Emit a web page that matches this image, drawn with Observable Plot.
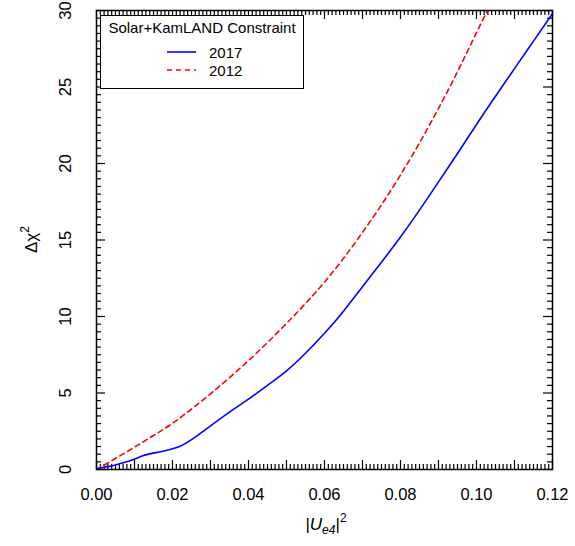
<!DOCTYPE html>
<html>
<head>
<meta charset="utf-8">
<script src="https://cdn.jsdelivr.net/npm/d3@7"></script>
<script src="https://cdn.jsdelivr.net/npm/@observablehq/plot@0.6"></script>
<style>
  html, body { margin: 0; padding: 0; background: #fff; }
  svg { display: block; }
</style>
</head>
<body>
<div id="chart"></div>
<script>
// ---- data ----
const x2017 = [0, 0.002, 0.005, 0.008, 0.010, 0.012, 0.014, 0.016, 0.018, 0.020, 0.022, 0.025, 0.030, 0.035, 0.040, 0.045, 0.050, 0.055, 0.060, 0.065, 0.070, 0.075, 0.080, 0.085, 0.090, 0.095, 0.100, 0.105, 0.110, 0.115, 0.120];
const y2017 = [0.05, 0.15, 0.30, 0.50, 0.68, 0.88, 1.02, 1.12, 1.22, 1.35, 1.52, 1.95, 2.85, 3.75, 4.60, 5.50, 6.45, 7.60, 8.90, 10.35, 11.95, 13.55, 15.20, 16.95, 18.80, 20.65, 22.55, 24.40, 26.20, 28.00, 29.80];
const x2012 = [0, 0.005, 0.010, 0.015, 0.020, 0.025, 0.030, 0.035, 0.040, 0.045, 0.050, 0.055, 0.060, 0.065, 0.070, 0.075, 0.080, 0.085, 0.090, 0.095, 0.100, 0.1029];
const y2012 = [0, 0.72, 1.46, 2.22, 3.02, 3.95, 4.95, 6.00, 7.12, 8.30, 9.55, 10.85, 12.25, 13.80, 15.50, 17.30, 19.25, 21.35, 23.60, 26.00, 28.55, 30.00];
const xTickValues = [0, 0.02, 0.04, 0.06, 0.08, 0.10, 0.12];
const xTickLabels = ["0.00", "0.02", "0.04", "0.06", "0.08", "0.10", "0.12"];
const yTickValues = [0, 5, 10, 15, 20, 25, 30];
const yTickLabels = ["0", "5", "10", "15", "20", "25", "30"];
const seriesNames = ["2017", "2012"];
const legendTitle = "Solar+KamLAND Constraint";

const d2017 = x2017.map((x, i) => ({x, y: y2017[i]}));
const d2012 = x2012.map((x, i) => ({x, y: y2012[i]}));

// ---- layout ----
const W = 575, H = 546;
const mL = 96, mR = 23, mT = 10, mB = 77;
const iW = W - mL - mR, iH = H - mT - mB;
const font = "'Liberation Sans', Arial, Helvetica, sans-serif";
const X0 = 0, X1 = 0.12, Y0 = 0, Y1 = 30;

const xMajor = d3.range(0, 13).map(i => i / 100);
const xMinor = d3.range(0, 121).filter(i => i % 10 !== 0).map(i => i / 1000);
const yMajor = d3.range(0, 7).map(i => i * 5);
const yMinor = d3.range(0, 61).filter(i => i % 10 !== 0).map(i => i / 2);
const majLen = 9, minLen = 5;
// tick lengths converted from pixels to data units
const ty = len => len / iH * (Y1 - Y0);
const tx = len => len / iW * (X1 - X0);

const xTicks = (vals, len) => [
  Plot.ruleX(vals, {x: d => d, y1: Y0, y2: Y0 + ty(len), stroke: "black", strokeWidth: 1.2}),
  Plot.ruleX(vals, {x: d => d, y1: Y1 - ty(len), y2: Y1, stroke: "black", strokeWidth: 1.2})
];
const yTicks = (vals, len) => [
  Plot.ruleY(vals, {y: d => d, x1: X0, x2: X0 + tx(len), stroke: "black", strokeWidth: 1.2}),
  Plot.ruleY(vals, {y: d => d, x1: X1 - tx(len), x2: X1, stroke: "black", strokeWidth: 1.2})
];

const plot = Plot.plot({
  width: W, height: H,
  marginLeft: mL, marginRight: mR, marginTop: mT, marginBottom: mB,
  style: {fontFamily: font, background: "#fff"},
  x: {domain: [X0, X1], axis: null},
  y: {domain: [Y0, Y1], axis: null},
  marks: [
    ...xTicks(xMinor, minLen),
    ...xTicks(xMajor, majLen),
    ...yTicks(yMinor, minLen),
    ...yTicks(yMajor, majLen),
    Plot.line(d2012, {x: "x", y: "y", stroke: "#ff0000", strokeWidth: 1.6, strokeDasharray: "5,4", curve: "natural", clip: true}),
    Plot.line(d2017, {x: "x", y: "y", stroke: "#0000ff", strokeWidth: 1.6, curve: "natural", clip: true}),
    Plot.text(xTickValues, {x: d => d, text: (d, i) => xTickLabels[i], frameAnchor: "bottom", dy: 25, lineAnchor: "middle", fontSize: 16.5, fill: "black"}),
    Plot.text(yTickValues, {y: d => d, text: (d, i) => yTickLabels[i], frameAnchor: "left", dx: -26, rotate: -90, lineAnchor: "bottom", textAnchor: "middle", fontSize: 16.5, fill: "black"}),
    Plot.frame({stroke: "black", strokeWidth: 1.5})
  ]
});

document.getElementById("chart").appendChild(plot);

// ---- axis titles ----
const svg = d3.select(plot);
const xs = plot.scale("x"), ys = plot.scale("y");
const cx = (xs.range[0] + xs.range[1]) / 2;
const cy = (ys.range[0] + ys.range[1]) / 2;

const xt = svg.append("text")
  .attr("x", cx + 2).attr("y", H - 16)
  .attr("text-anchor", "middle")
  .style("font-family", font).style("font-size", "17px").attr("fill", "black");
xt.append("tspan").text("|");
xt.append("tspan").attr("font-style", "italic").text("U");
xt.append("tspan").attr("font-style", "italic").attr("font-size", "12px").attr("dy", 4).text("e4");
xt.append("tspan").attr("dy", -4).text("|");
xt.append("tspan").attr("font-size", "12px").attr("dy", -8).text("2");

const yt = svg.append("text")
  .attr("transform", `translate(37,${cy}) rotate(-90)`)
  .attr("text-anchor", "middle")
  .style("font-family", font).style("font-size", "17px").attr("fill", "black");
yt.append("tspan").text("Δχ");
yt.append("tspan").attr("font-size", "12px").attr("dy", -8).text("2");

// ---- legend ----
const lg = svg.append("g").style("font-family", font).attr("text-anchor", "start");
lg.append("rect").attr("x", 100.5).attr("y", 15.5).attr("width", 203).attr("height", 73)
  .attr("fill", "white").attr("stroke", "black").attr("stroke-width", 1);
lg.append("text").attr("x", 202).attr("y", 33).attr("text-anchor", "middle")
  .style("font-size", "15px").attr("fill", "black").text(legendTitle);
const lcol = ["#0000ff", "#ff0000"], ldash = [null, "5,4"];
seriesNames.forEach((name, i) => {
  const yy = 52 + i * 18;
  lg.append("line").attr("x1", 167).attr("x2", 196).attr("y1", yy).attr("y2", yy)
    .attr("stroke", lcol[i]).attr("stroke-width", 1.6).attr("stroke-dasharray", ldash[i]);
  lg.append("text").attr("x", 209).attr("y", yy + 5.5).attr("text-anchor", "start")
    .style("font-size", "15px").attr("fill", "black").text(name);
});
</script>
</body>
</html>
